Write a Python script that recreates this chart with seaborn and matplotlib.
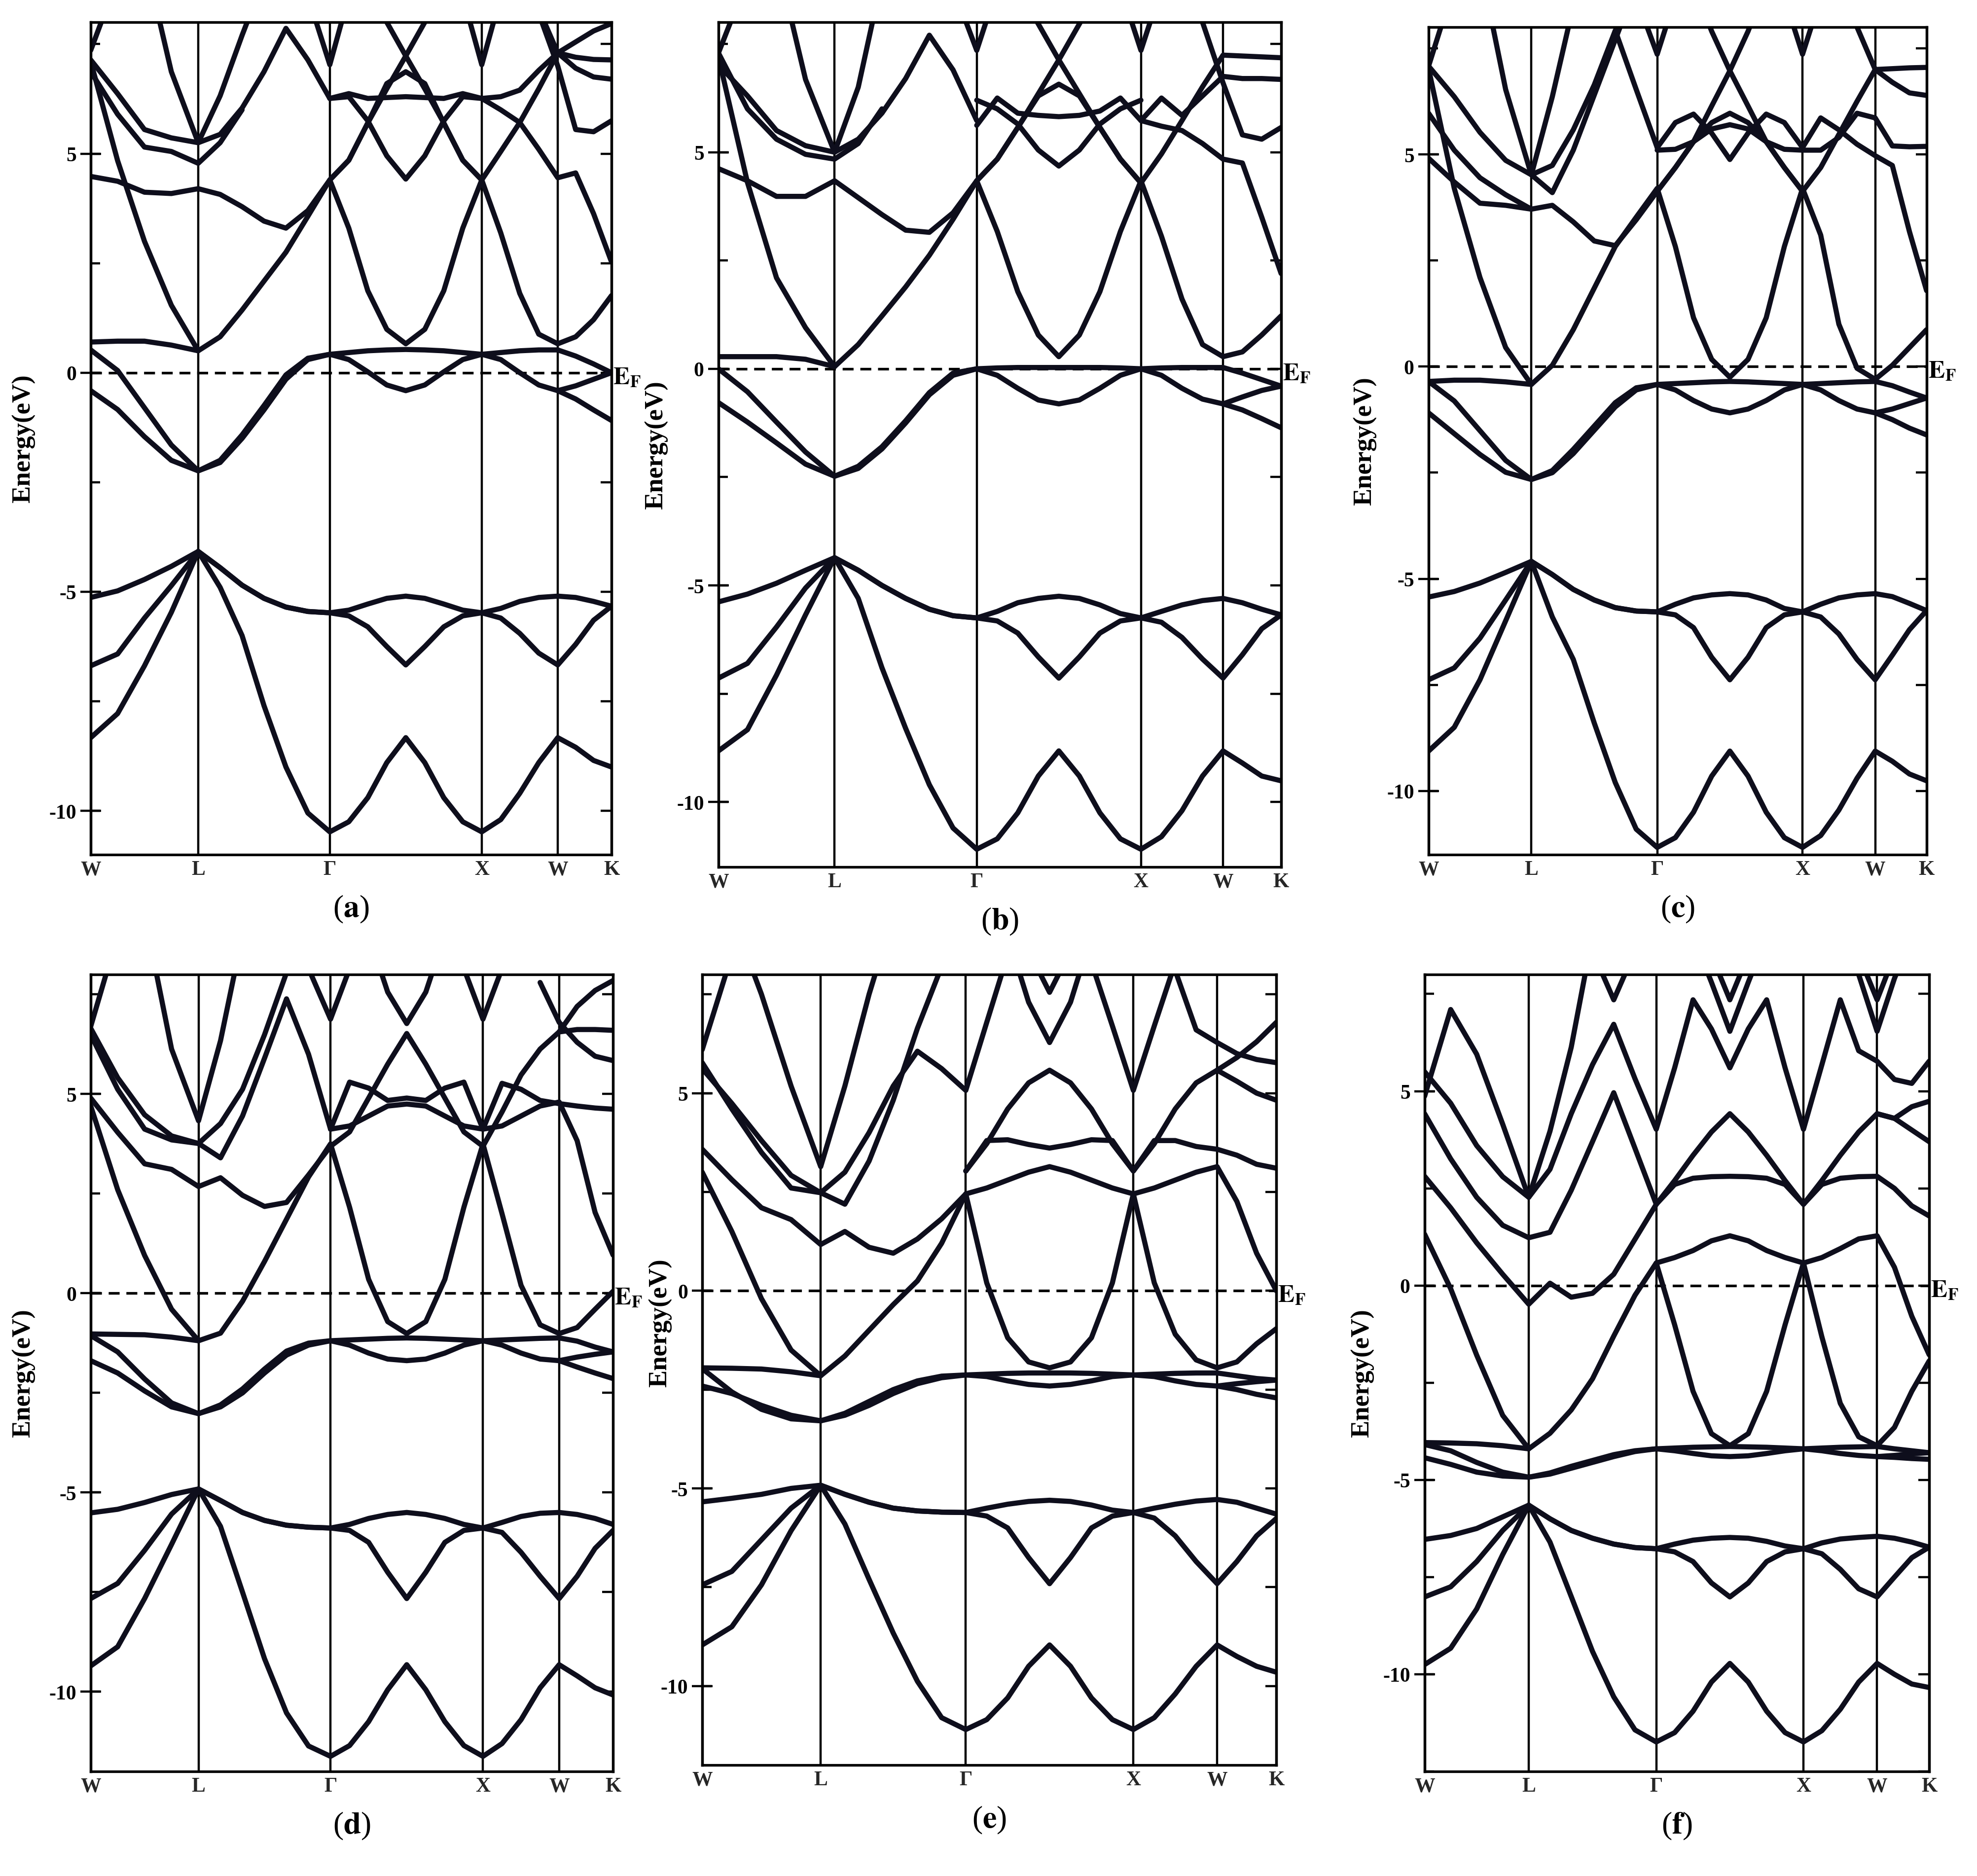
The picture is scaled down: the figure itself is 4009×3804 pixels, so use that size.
import numpy as np
import pandas as pd
import seaborn as sns
import matplotlib
matplotlib.use('Agg')
import matplotlib.pyplot as plt
from matplotlib.ticker import MultipleLocator

n = np.nan
NK = 26

def seg(start, vals):
	return [n]*start + vals + [n]*(NK - start - len(vals))

# k-path W-L-G-X-W-K (fcc), positions in units of 2pi/a
kp_labels = ['W', 'L', 'Γ', 'X', 'W', 'K']
kp_pos = [0.0, 0.7071, 1.5731, 2.5731, 3.0731, 3.4267]
seg_steps = [4, 6, 8, 4, 3]

# ---------------- panel (a)
a1 = [-8.33, -7.78, -6.69, -5.47, -4.08, -4.9, -6.0, -7.6, -9.0, -10.05, -10.48, -10.25, -9.7, -8.9, -8.33, -8.9, -9.7, -10.25, -10.48, -10.2, -9.6, -8.9, -8.33, -8.55, -8.85, -9.0]
a2 = [-6.69, -6.42, -5.6, -4.86, -4.08, -4.45, -4.85, -5.15, -5.35, -5.45, -5.48, -5.55, -5.8, -6.25, -6.67, -6.25, -5.8, -5.55, -5.48, -5.6, -5.95, -6.4, -6.67, -6.2, -5.65, -5.33]
a3 = [-5.13, -4.98, -4.72, -4.42, -4.08, -4.45, -4.85, -5.15, -5.35, -5.45, -5.48, -5.42, -5.28, -5.15, -5.1, -5.15, -5.28, -5.42, -5.48, -5.38, -5.22, -5.13, -5.1, -5.13, -5.22, -5.33]
a4 = [-0.41, -0.84, -1.46, -2.0, -2.24, -2.05, -1.5, -0.85, -0.15, 0.3, 0.42, 0.3, 0.02, -0.28, -0.41, -0.28, 0.02, 0.3, 0.42, 0.3, 0.0, -0.28, -0.41, -0.6, -0.85, -1.09]
a5 = [0.52, 0.05, -0.8, -1.65, -2.24, -2.0, -1.42, -0.75, -0.05, 0.33, 0.42, 0.46, 0.5, 0.52, 0.53, 0.52, 0.5, 0.46, 0.42, 0.46, 0.5, 0.52, 0.52, 0.38, 0.2, 0.0]
a5b = seg(22, [-0.41, -0.3, -0.15, 0.0])
a6 = [0.7, 0.72, 0.72, 0.63, 0.5, 0.82, 1.43, 2.09, 2.75, 3.57, 4.4, 3.3, 1.87, 0.99, 0.66, 0.99, 1.87, 3.3, 4.4, 3.19, 1.81, 0.88, 0.66, 0.82, 1.21, 1.76]
a7 = seg(0, [7.1, 4.84, 3.0, 1.54, 0.5])
a8 = seg(0, [4.48, 4.37, 4.12, 4.09, 4.2, 4.07, 3.79, 3.46, 3.3, 3.7, 4.4, 4.85, 5.7, 6.48, 7.23, 8.0, 9.0])
a9 = seg(12, [9.0, 8.0, 7.23, 6.48, 5.7, 4.85, 4.4, 5.05, 5.71, 6.48, 7.3, 7.55, 7.8, 7.97])
a10 = seg(10, [4.4, 4.85, 5.7, 6.6, 6.87, 6.6, 5.7, 4.85, 4.4])
a11 = seg(10, [6.26, 6.3, 5.75, 4.95, 4.42, 4.95, 5.75, 6.3, 6.26])
a12 = seg(10, [6.26, 6.37, 6.26, 6.28, 6.3, 6.28, 6.26, 6.37, 6.26, 6.3, 6.45, 6.9, 7.3, 7.2, 7.15, 7.14])
a13 = seg(18, [6.26, 6.0, 5.71, 5.1, 4.45, 4.56, 3.63, 2.53])
a14 = seg(21, [8.3, 7.3, 6.95, 6.75, 6.7])
a15 = seg(21, [8.2, 7.0, 5.55, 5.5, 5.75])
a16 = seg(9, [8.6, 7.03, 8.6])
a17 = seg(17, [8.6, 7.03, 8.6])
a18 = seg(0, [7.14, 6.37, 5.55, 5.36, 5.25, 5.44, 6.04, 6.87, 7.86, 7.14, 6.26])
a19 = seg(0, [6.87, 5.9, 5.15, 5.05, 4.78, 5.25, 6.0])
a20 = seg(2, [9.5, 6.87, 5.25, 6.32, 7.7, 9.0])
a21 = seg(0, [7.36, 9.0])
bands_a = [a1, a2, a3, a4, a5, a5b, a6, a7, a8, a9, a10, a11, a12, a13, a14, a15, a16, a17, a18, a19, a20, a21]

# ---------------- panel (b)
b1 = [-8.82, -8.33, -7.07, -5.68, -4.36, -5.3, -6.9, -8.3, -9.6, -10.6, -11.09, -10.85, -10.25, -9.4, -8.82, -9.4, -10.25, -10.85, -11.09, -10.8, -10.2, -9.4, -8.82, -9.1, -9.4, -9.51]
b2 = [-7.14, -6.8, -5.96, -5.06, -4.36, -4.65, -5.0, -5.3, -5.55, -5.7, -5.75, -5.82, -6.1, -6.65, -7.14, -6.65, -6.1, -5.82, -5.75, -5.85, -6.2, -6.7, -7.14, -6.6, -6.0, -5.68]
b3 = [-5.38, -5.2, -4.95, -4.65, -4.36, -4.65, -5.0, -5.3, -5.55, -5.7, -5.75, -5.6, -5.4, -5.3, -5.25, -5.3, -5.45, -5.65, -5.75, -5.6, -5.45, -5.35, -5.3, -5.4, -5.55, -5.68]
b4 = [-0.78, -1.23, -1.71, -2.2, -2.48, -2.3, -1.85, -1.25, -0.6, -0.15, 0.0, -0.15, -0.45, -0.72, -0.81, -0.72, -0.45, -0.15, 0.0, -0.15, -0.45, -0.7, -0.81, -0.95, -1.15, -1.36]
b5 = [0.0, -0.53, -1.23, -1.92, -2.48, -2.25, -1.8, -1.2, -0.55, -0.1, 0.0, 0.02, 0.03, 0.03, 0.03, 0.03, 0.03, 0.02, 0.0, 0.02, 0.03, 0.03, 0.03, -0.1, -0.25, -0.4]
b5b = seg(22, [-0.81, -0.65, -0.5, -0.4])
b6 = [0.28, 0.28, 0.28, 0.22, 0.05, 0.56, 1.22, 1.89, 2.62, 3.45, 4.34, 3.17, 1.78, 0.78, 0.28, 0.78, 1.78, 3.17, 4.34, 3.06, 1.61, 0.56, 0.28, 0.39, 0.78, 1.22]
b7 = seg(0, [7.2, 4.3, 2.1, 0.95, 0.05])
b8 = seg(0, [4.62, 4.34, 3.98, 3.98, 4.34, 3.95, 3.56, 3.2, 3.15, 3.6, 4.34, 4.84, 5.57, 6.35, 7.13, 7.96, 8.8])
b9 = seg(12, [8.8, 7.96, 7.13, 6.35, 5.57, 4.84, 4.29, 4.96, 5.73, 6.51, 7.24, 7.22, 7.2, 7.18])
b10 = seg(10, [4.34, 4.84, 5.57, 6.3, 6.57, 6.3, 5.57, 4.84, 4.29])
b11 = seg(10, [6.2, 6.0, 5.65, 5.05, 4.68, 5.05, 5.65, 6.0, 6.2])
b12 = seg(10, [5.62, 6.25, 5.9, 5.85, 5.82, 5.85, 5.95, 6.25, 5.73, 6.25, 5.85, 6.3, 6.75, 6.7, 6.7, 6.68])
b13 = seg(18, [5.73, 5.6, 5.5, 5.2, 4.84, 4.75, 3.5, 2.2])
b15 = seg(21, [8.0, 6.6, 5.4, 5.3, 5.57])
b16 = seg(9, [8.8, 7.35, 8.8])
b17 = seg(17, [8.8, 7.35, 8.8])
b18 = seg(0, [7.02, 6.3, 5.5, 5.15, 5.0, 5.3, 5.9, 6.7, 7.7, 6.9, 5.73])
b19 = seg(0, [7.29, 6.0, 5.3, 4.95, 4.84, 5.2, 6.0])
b20 = seg(2, [9.5, 6.68, 5.0, 6.5, 9.0])
b21 = seg(0, [7.29, 9.0])
bands_b = [b1, b2, b3, b4, b5, b5b, b6, b7, b8, b9, b10, b11, b12, b13, b15, b16, b17, b18, b19, b20, b21]

# ---------------- panel (c)
c1 = [-9.06, -8.5, -7.38, -5.99, -4.59, -5.9, -6.9, -8.4, -9.8, -10.9, -11.33, -11.1, -10.5, -9.65, -9.06, -9.65, -10.5, -11.1, -11.33, -11.05, -10.45, -9.7, -9.06, -9.3, -9.6, -9.76]
c2 = [-7.38, -7.1, -6.4, -5.5, -4.59, -4.9, -5.25, -5.5, -5.68, -5.76, -5.78, -5.85, -6.15, -6.85, -7.38, -6.85, -6.15, -5.85, -5.78, -5.9, -6.3, -6.9, -7.38, -6.8, -6.2, -5.75]
c3 = [-5.43, -5.3, -5.1, -4.85, -4.59, -4.9, -5.25, -5.5, -5.68, -5.76, -5.78, -5.6, -5.45, -5.38, -5.35, -5.38, -5.5, -5.7, -5.78, -5.6, -5.45, -5.38, -5.35, -5.42, -5.58, -5.75]
c4 = [-1.09, -1.58, -2.07, -2.49, -2.66, -2.5, -2.05, -1.5, -0.95, -0.55, -0.42, -0.55, -0.8, -1.0, -1.09, -1.0, -0.8, -0.55, -0.42, -0.55, -0.8, -1.0, -1.09, -1.25, -1.45, -1.61]
c5 = [-0.35, -0.81, -1.51, -2.21, -2.66, -2.45, -1.95, -1.4, -0.85, -0.5, -0.42, -0.4, -0.38, -0.36, -0.35, -0.36, -0.38, -0.4, -0.42, -0.4, -0.38, -0.36, -0.35, -0.45, -0.6, -0.74]
c5b = seg(22, [-1.09, -1.0, -0.87, -0.74])
c6 = [-0.35, -0.32, -0.32, -0.36, -0.42, 0.03, 0.87, 1.85, 2.83, 3.52, 4.2, 2.83, 1.15, 0.17, -0.25, 0.17, 1.15, 2.83, 4.2, 3.1, 1.0, -0.04, -0.3, 0.03, 0.45, 0.87]
c7 = seg(0, [7.02, 4.2, 2.1, 0.45, -0.42])
c8 = seg(0, [4.91, 4.35, 3.85, 3.8, 3.71, 3.8, 3.41, 2.96, 2.85, 3.46, 4.13, 4.69, 5.3, 6.14, 6.97, 7.9, 9.0])
c9 = seg(12, [9.0, 7.9, 6.97, 6.14, 5.3, 4.69, 4.13, 4.69, 5.47, 6.25, 7.0, 7.02, 7.04, 7.05])
c10 = seg(10, [4.13, 4.69, 5.3, 5.75, 5.97, 5.75, 5.3, 4.69, 4.13])
c11 = seg(10, [5.16, 5.75, 5.95, 5.5, 4.88, 5.5, 5.95, 5.75, 5.16])
c12 = seg(10, [5.1, 5.12, 5.3, 5.6, 5.7, 5.6, 5.3, 5.12, 5.1, 5.1, 5.4, 5.97, 5.86, 5.2, 5.18, 5.19])
c13 = seg(18, [5.16, 5.86, 5.58, 5.24, 4.97, 4.74, 3.18, 1.79])
c14 = seg(21, [8.0, 7.0, 6.7, 6.45, 6.39])
c16 = seg(9, [8.7, 7.36, 8.7])
c17 = seg(17, [8.7, 7.36, 8.7])
c18 = seg(0, [7.08, 6.36, 5.52, 4.86, 4.52, 4.74, 5.58, 6.64, 7.92, 6.53, 5.16])
c19 = seg(0, [5.97, 5.1, 4.45, 4.05, 3.71])
c19b = seg(4, [4.52, 4.1, 5.1, 6.4, 7.7, 9.0])
c20 = seg(2, [9.5, 6.53, 4.52, 6.36, 8.5])
c21 = seg(0, [7.08, 9.0])
bands_c = [c1, c2, c3, c4, c5, c5b, c6, c7, c8, c9, c10, c11, c12, c13, c14, c16, c17, c18, c19, c19b, c20, c21]

# ---------------- panel (d)
d1 = [-9.35, -8.87, -7.66, -6.3, -4.91, -5.85, -7.5, -9.17, -10.53, -11.36, -11.62, -11.35, -10.75, -9.95, -9.32, -9.95, -10.75, -11.35, -11.62, -11.3, -10.7, -9.9, -9.32, -9.6, -9.9, -10.08]
d2 = [-7.66, -7.28, -6.45, -5.54, -4.91, -5.2, -5.5, -5.7, -5.82, -5.87, -5.89, -5.95, -6.25, -7.0, -7.66, -7.0, -6.25, -5.95, -5.89, -6.0, -6.5, -7.1, -7.66, -7.1, -6.4, -5.95]
d3 = [-5.51, -5.42, -5.25, -5.05, -4.91, -5.2, -5.5, -5.7, -5.82, -5.87, -5.89, -5.8, -5.65, -5.55, -5.5, -5.55, -5.65, -5.8, -5.89, -5.75, -5.6, -5.52, -5.5, -5.55, -5.65, -5.8]
d4 = [-1.69, -2.0, -2.45, -2.85, -3.02, -2.85, -2.5, -2.0, -1.55, -1.3, -1.19, -1.3, -1.5, -1.65, -1.69, -1.65, -1.5, -1.3, -1.19, -1.3, -1.5, -1.65, -1.69, -1.85, -2.0, -2.14]
d5 = [-1.06, -1.47, -2.15, -2.75, -3.02, -2.8, -2.4, -1.9, -1.45, -1.25, -1.19, -1.17, -1.15, -1.13, -1.12, -1.13, -1.15, -1.17, -1.19, -1.17, -1.15, -1.13, -1.12, -1.2, -1.35, -1.47]
d5b = seg(22, [-1.69, -1.6, -1.53, -1.47])
d6 = [-1.02, -1.03, -1.04, -1.1, -1.19, -1.0, -0.2, 0.8, 1.86, 2.92, 3.75, 2.16, 0.35, -0.71, -1.01, -0.71, 0.35, 2.16, 3.75, 2.0, 0.2, -0.79, -1.01, -0.86, -0.4, 0.05]
d7 = seg(0, [4.7, 2.6, 0.95, -0.4, -1.19])
d8 = seg(0, [4.9, 4.04, 3.25, 3.11, 2.68, 2.9, 2.46, 2.18, 2.28, 2.97, 3.69])
d9 = seg(10, [3.69, 4.05, 4.9, 5.75, 6.52, 5.75, 4.9, 4.05, 3.69, 4.55, 5.48, 6.13, 6.56, 6.62, 6.62, 6.6])
d10 = seg(10, [4.12, 5.3, 5.15, 4.84, 4.9, 4.84, 5.15, 5.3, 4.12, 5.27, 5.12, 4.84, 4.76, 4.7, 4.65, 4.62])
d11 = seg(10, [4.12, 4.2, 4.45, 4.7, 4.75, 4.7, 4.45, 4.2, 4.12, 4.2, 4.45, 4.7, 4.8, 3.83, 2.03, 0.96])
d12 = seg(21, [7.8, 6.8, 6.3, 5.95, 5.84])
d13 = seg(22, [6.56, 7.2, 7.6, 7.85])
d14 = seg(9, [8.15, 6.88, 8.15])
d15 = seg(17, [8.15, 6.88, 8.15])
d16 = seg(12, [9.0, 7.56, 6.77, 7.56, 9.0])
d18 = seg(0, [6.65, 5.41, 4.48, 3.95, 3.76, 3.4, 4.45, 5.9, 7.39, 6.0, 4.12])
d19 = seg(0, [6.49, 5.12, 4.12, 3.85, 3.76, 4.26, 5.12, 6.49, 8.05])
d20 = seg(2, [9.5, 6.13, 4.33, 6.34, 9.0])
d21 = seg(0, [6.7, 9.0])
bands_d = [d1, d2, d3, d4, d5, d5b, d6, d7, d8, d9, d10, d11, d12, d13, d14, d15, d16, d18, d19, d20, d21]

# ---------------- panel (e)
e1 = [-8.96, -8.5, -7.44, -6.07, -4.92, -5.9, -7.3, -8.66, -9.88, -10.8, -11.1, -10.85, -10.3, -9.5, -8.96, -9.5, -10.3, -10.85, -11.1, -10.8, -10.2, -9.5, -8.96, -9.25, -9.5, -9.65]
e2 = [-7.44, -7.1, -6.3, -5.5, -4.92, -5.15, -5.35, -5.5, -5.57, -5.6, -5.61, -5.7, -6.0, -6.75, -7.41, -6.75, -6.0, -5.7, -5.61, -5.75, -6.2, -6.85, -7.41, -6.85, -6.2, -5.76]
e3 = [-5.34, -5.25, -5.15, -5.0, -4.92, -5.15, -5.35, -5.5, -5.57, -5.6, -5.61, -5.5, -5.4, -5.33, -5.3, -5.33, -5.42, -5.55, -5.61, -5.5, -5.4, -5.32, -5.28, -5.35, -5.5, -5.65]
e4 = [-2.41, -2.6, -2.9, -3.15, -3.29, -3.15, -2.9, -2.6, -2.35, -2.2, -2.13, -2.17, -2.28, -2.37, -2.41, -2.37, -2.28, -2.17, -2.13, -2.17, -2.28, -2.37, -2.41, -2.5, -2.62, -2.71]
e5 = [-1.97, -2.56, -3.0, -3.24, -3.29, -3.1, -2.8, -2.5, -2.28, -2.16, -2.13, -2.11, -2.09, -2.08, -2.08, -2.08, -2.09, -2.11, -2.13, -2.11, -2.09, -2.08, -2.08, -2.15, -2.22, -2.26]
e5b = seg(22, [-2.41, -2.35, -2.3, -2.26])
e6 = [-1.95, -1.96, -1.98, -2.05, -2.15, -1.65, -1.0, -0.35, 0.25, 1.2, 2.45, 0.2, -1.19, -1.8, -1.95, -1.8, -1.19, 0.2, 2.45, 0.2, -1.1, -1.75, -1.95, -1.8, -1.34, -0.96]
e7 = seg(0, [3.0, 1.5, -0.2, -1.5, -2.15])
e8 = seg(0, [3.58, 2.81, 2.1, 1.8, 1.17, 1.5, 1.1, 0.95, 1.31, 1.82, 2.45])
e9 = seg(10, [2.45, 2.6, 2.8, 3.0, 3.14, 3.0, 2.8, 2.6, 2.45, 2.6, 2.8, 3.0, 3.14, 2.26, 0.95, 0.0])
e10 = seg(10, [3.03, 3.72, 4.6, 5.26, 5.58, 5.26, 4.6, 3.72, 3.03, 3.72, 4.6, 5.26, 5.58, 5.3, 5.0, 4.82])
e11 = seg(10, [3.03, 3.8, 3.82, 3.7, 3.61, 3.7, 3.82, 3.8, 3.03, 3.8, 3.8, 3.65, 3.58, 3.43, 3.2, 3.1])
e12 = seg(12, [9.0, 7.3, 6.28, 7.3, 9.0])
e13 = seg(12, [9.5, 8.6, 7.55, 8.6, 9.5])
e14 = seg(16, [8.3, 6.7, 5.07, 6.7, 8.3])
e15 = seg(20, [8.1, 6.6, 6.28, 6.0, 5.85, 5.77])
e16 = seg(22, [5.58, 5.9, 6.3, 6.79])
e18 = seg(0, [5.62, 4.74, 3.8, 2.92, 2.48, 3.0, 4.0, 5.18, 6.06, 5.62, 5.07, 6.79, 8.5])
e19 = seg(0, [5.77, 4.6, 3.5, 2.6, 2.48, 2.19, 3.28, 4.82, 6.64, 8.2])
e20 = seg(1, [9.5, 7.5, 5.18, 3.14, 5.18, 7.5, 9.5])
e21 = seg(0, [6.1, 8.5])
bands_e = [e1, e2, e3, e4, e5, e5b, e6, e7, e8, e9, e10, e11, e12, e13, e14, e15, e16, e18, e19, e20, e21]

# ---------------- panel (f)
f1 = [-9.75, -9.33, -8.32, -6.92, -5.65, -6.6, -8.0, -9.41, -10.58, -11.43, -11.74, -11.5, -10.95, -10.2, -9.72, -10.2, -10.95, -11.5, -11.74, -11.45, -10.9, -10.2, -9.72, -10.0, -10.25, -10.34]
f2 = [-8.01, -7.75, -7.1, -6.3, -5.65, -6.0, -6.3, -6.5, -6.65, -6.74, -6.77, -6.85, -7.1, -7.65, -8.01, -7.65, -7.1, -6.85, -6.77, -6.9, -7.3, -7.8, -8.01, -7.5, -7.0, -6.73]
f3 = [-6.53, -6.43, -6.25, -5.95, -5.65, -6.0, -6.3, -6.5, -6.65, -6.74, -6.77, -6.65, -6.55, -6.5, -6.48, -6.5, -6.58, -6.7, -6.77, -6.62, -6.52, -6.48, -6.45, -6.5, -6.6, -6.73]
f4 = [-4.43, -4.6, -4.8, -4.9, -4.93, -4.85, -4.7, -4.55, -4.4, -4.27, -4.2, -4.25, -4.32, -4.38, -4.4, -4.38, -4.32, -4.25, -4.2, -4.25, -4.32, -4.37, -4.4, -4.42, -4.45, -4.47]
f5 = [-4.09, -4.25, -4.55, -4.8, -4.93, -4.82, -4.65, -4.5, -4.35, -4.25, -4.2, -4.18, -4.16, -4.15, -4.14, -4.15, -4.16, -4.18, -4.2, -4.18, -4.16, -4.15, -4.14, -4.2, -4.25, -4.3]
f5b = seg(22, [-4.4, -4.37, -4.33, -4.3])
f6 = [-4.04, -4.05, -4.07, -4.12, -4.2, -3.8, -3.2, -2.4, -1.3, -0.25, 0.58, -1.01, -2.72, -3.81, -4.12, -3.81, -2.72, -1.01, 0.58, -1.32, -3.03, -3.89, -4.12, -3.65, -2.72, -1.94]
f7 = seg(0, [1.32, -0.08, -1.79, -3.34, -4.2])
f8 = seg(0, [2.81, 2.0, 1.1, 0.29, -0.48, 0.06, -0.3, -0.2, 0.29, 1.19, 2.09])
f9 = seg(10, [0.58, 0.72, 0.9, 1.15, 1.28, 1.15, 0.9, 0.72, 0.58, 0.72, 0.95, 1.2, 1.28, 0.47, -0.79, -1.78])
f10 = seg(10, [2.09, 2.7, 3.35, 3.95, 4.42, 3.95, 3.35, 2.7, 2.09, 2.7, 3.35, 3.95, 4.42, 4.3, 4.0, 3.7])
f11 = seg(10, [2.09, 2.6, 2.76, 2.8, 2.81, 2.8, 2.76, 2.6, 2.09, 2.6, 2.76, 2.8, 2.81, 2.5, 2.05, 1.79])
f12 = seg(22, [4.42, 4.3, 4.6, 4.74])
f13 = seg(12, [9.0, 7.8, 6.54, 7.8, 9.0])
f14 = seg(12, [9.5, 8.5, 7.35, 8.5, 9.5])
f15 = seg(7, [8.6, 7.35, 8.6])
f16 = seg(21, [8.0, 6.54, 7.9, 9.0])
f17 = seg(21, [8.5, 7.35, 8.5])
f18 = seg(0, [4.42, 3.26, 2.27, 1.55, 1.23, 1.37, 2.45, 3.7, 4.96, 3.53, 2.09])
f19 = [5.5, 4.69, 3.6, 2.8, 2.27, 2.99, 4.42, 5.68, 6.72, 5.32, 4.02, 5.6, 7.35, 6.6, 5.6, 6.6, 7.35, 5.6, 4.02, 5.68, 7.35, 6.04, 5.77, 5.3, 5.2, 5.77]
f20 = seg(0, [4.87, 7.1, 5.95, 4.15, 2.27, 3.97, 6.13, 9.0])
bands_f = [f1, f2, f3, f4, f5, f5b, f6, f7, f8, f9, f10, f11, f12, f13, f14, f15, f16, f17, f18, f19, f20]

panels = [
	('a', bands_a, (-11, 8), [0.0459, 0.5443, 0.2634, 0.4436], -0.106, 0.5),
	('b', bands_b, (-11.5, 8), [0.3634, 0.5377, 0.2846, 0.4502], -0.089, 0.5),
	('c', bands_c, (-11.5, 8), [0.7226, 0.5443, 0.2519, 0.4410], -0.104, 0.5),
	('d', bands_d, (-12, 8), [0.0459, 0.0557, 0.2642, 0.4247], -0.106, 0.5),
	('e', bands_e, (-12, 8), [0.3552, 0.0591, 0.2904, 0.4213], -0.052, 0.56),
	('f', bands_f, (-12.5, 8), [0.7206, 0.0557, 0.2552, 0.4247], -0.100, 0.5),
]

sns.set_theme(style='white')
plt.rcParams['font.family'] = ['Liberation Serif', 'DejaVu Serif']
plt.rcParams['mathtext.fontset'] = 'stix'
plt.rcParams['axes.unicode_minus'] = False

k_grid = np.concatenate([np.linspace(kp_pos[i], kp_pos[i+1], seg_steps[i]+1)[(1 if i else 0):] for i in range(5)])
band_col = '#0e0e1c'

fig = plt.figure(figsize=(40.09, 38.05), dpi=100)
for tag, bands, ylim, rect, lab_x, lab_y in panels:
	ax = fig.add_axes(rect)
	rows = []
	for i, b in enumerate(bands):
		assert len(b) == NK, (tag, i, len(b))
		for k, e in zip(k_grid, b):
			rows.append((i, k, e))
	df = pd.DataFrame(rows, columns=['band', 'k', 'E'])
	for p in kp_pos[1:-1]:
		ax.axvline(p, color='black', lw=3.2, zorder=1)
	ax.axhline(0, color='black', lw=3.8, ls=(0, (4.2, 2.6)), zorder=1)
	sns.lineplot(data=df, x='k', y='E', units='band', estimator=None, sort=False,
				 color=band_col, linewidth=7.5, solid_joinstyle='round',
				 solid_capstyle='round', ax=ax, legend=False, zorder=2)
	ax.set_xlim(kp_pos[0], kp_pos[-1])
	ax.set_ylim(*ylim)
	ax.set_xticks(kp_pos)
	ax.set_xticklabels(kp_labels, fontsize=30, fontweight='bold')
	ax.set_xlabel('')
	ax.yaxis.set_major_locator(MultipleLocator(5))
	ax.yaxis.set_minor_locator(MultipleLocator(2.5))
	ax.tick_params(axis='x', length=0, pad=8)
	ax.tick_params(axis='y', which='both', direction='inout', left=True, right=False,
				   width=3.2, labelsize=30, pad=6, colors='black')
	ax.tick_params(axis='y', which='major', length=30)
	ax.tick_params(axis='y', which='minor', length=0)
	for lbl in ax.get_yticklabels():
		lbl.set_fontweight('bold')
	# inner ticks on the right edge and minor ticks on the left
	rax = ax.secondary_yaxis('right')
	rax.yaxis.set_major_locator(MultipleLocator(2.5))
	rax.tick_params(axis='y', direction='in', length=16, width=3.2, labelright=False, colors='black')
	rax.spines['right'].set_linewidth(3.8)
	lax = ax.secondary_yaxis('left')
	lax.yaxis.set_major_locator(MultipleLocator(2.5))
	lax.tick_params(axis='y', direction='in', length=14, width=3.2, labelleft=False, colors='black')
	lax.spines['left'].set_linewidth(3.8)
	ax.set_ylabel('Energy(eV)', fontsize=38, fontweight='bold', color='black')
	ax.yaxis.set_label_coords(lab_x, lab_y)
	for s in ax.spines.values():
		s.set_linewidth(3.8)
		s.set_color('black')
	ax.annotate(r'$\mathbf{E_F}$', xy=(1.0, 0), xycoords=('axes fraction', 'data'),
				xytext=(2, -7), textcoords='offset points', fontsize=36,
				ha='left', va='center', color='black', annotation_clip=False)
	cx = rect[0] + rect[2] / 2
	cy = rect[1] - 0.029
	fig.text(cx, cy, r'($\mathbf{' + tag + r'}$)', ha='center', va='center', fontsize=46, color='black')

fig.savefig('out.png', dpi=100, facecolor='white')
